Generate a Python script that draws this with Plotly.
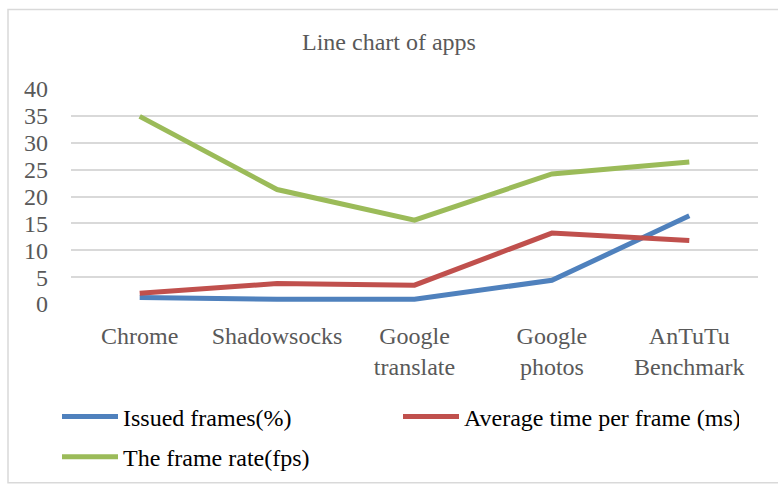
import plotly.graph_objects as go

categories = ["Chrome", "Shadowsocks", "Google<br>translate", "Google<br>photos", "AnTuTu<br>Benchmark"]
issued_frames = [1.2, 0.9, 0.9, 4.4, 16.4]
avg_time = [2.0, 3.8, 3.5, 13.2, 11.8]
frame_rate = [34.9, 21.3, 15.6, 24.2, 26.4]
y_ticks = [0, 5, 10, 15, 20, 25, 30, 35, 40]

W, H = 778, 491
L, R, T, B = 71, 20, 89, 183
pw, ph = W - L - R, H - T - B

def px(x):
    return (x - L) / pw

def py(y):
    return (H - B - y) / ph

FONT = "Times New Roman, Liberation Serif, serif"
FS = 24
fig = go.Figure()
fig.add_trace(go.Scatter(x=categories, y=issued_frames, mode="lines", name="Issued frames(%)",
                         line=dict(color="#4F81BD", width=5), legend="legend"))
fig.add_trace(go.Scatter(x=categories, y=avg_time, mode="lines", name="Average time per frame (ms)",
                         line=dict(color="#C0504D", width=5), legend="legend"))
fig.add_trace(go.Scatter(x=categories, y=frame_rate, mode="lines", name="The frame rate(fps)",
                         line=dict(color="#9BBB59", width=5), legend="legend2"))

fig.update_layout(
    width=W, height=H,
    margin=dict(l=L, r=R, t=T, b=B),
    paper_bgcolor="white", plot_bgcolor="white",
    font=dict(family=FONT, size=FS, color="#595959"),
    title=dict(text="Line chart of apps", x=0.5, xanchor="center", y=1 - 42 / H, yanchor="middle",
               font=dict(family=FONT, size=FS, color="#595959")),
    xaxis=dict(type="category", range=[-0.5, 4.5], showgrid=False, zeroline=False, showline=False,
               ticks="", ticklabelstandoff=15, tickfont=dict(family=FONT, size=FS, color="#595959")),
    yaxis=dict(range=[0, 40], tickvals=y_ticks, showgrid=True, gridcolor="#D9D9D9", gridwidth=1.5,
               zeroline=False, showline=False, ticks="", ticklabelstandoff=22,
               tickfont=dict(family=FONT, size=FS, color="#595959")),
    showlegend=True,
    legend=dict(orientation="h", x=px(57), y=py(423), xanchor="left", yanchor="middle",
                entrywidth=270, entrywidthmode="pixels", itemwidth=56, itemclick=False,
                font=dict(family=FONT, size=FS, color="black"), bgcolor="rgba(0,0,0,0)"),
    legend2=dict(orientation="h", x=px(57), y=py(464), xanchor="left", yanchor="middle",
                 itemwidth=56, itemclick=False,
                 font=dict(family=FONT, size=FS, color="black"), bgcolor="rgba(0,0,0,0)"),
    shapes=[dict(type="rect", xref="paper", yref="paper", x0=px(8), x1=px(781), y0=py(490), y1=py(8),
                 line=dict(color="#D9D9D9", width=1.5), layer="below")],
)

fig.write_html("out.html")
